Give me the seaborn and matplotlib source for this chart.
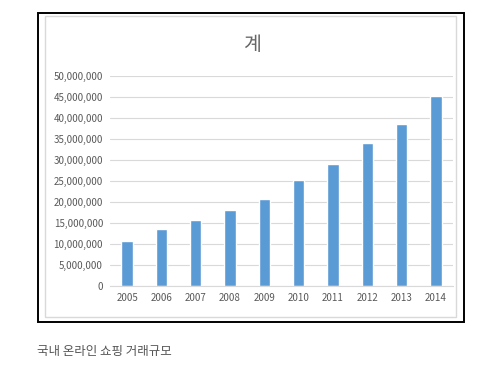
import matplotlib
matplotlib.use("Agg")
import matplotlib.pyplot as plt
import matplotlib.patches as mpatches
import matplotlib.ticker as mticker
import seaborn as sns
import pandas as pd

years = ["2005", "2006", "2007", "2008", "2009", "2010", "2011", "2012", "2013", "2014"]
totals = [10675600, 13460000, 15765500, 18145900, 20643000,
          25202800, 29072800, 34067800, 38497900, 45302000]
title = "계"
caption = "국내 온라인 쇼핑 거래규모"

sns.set_style("white")
plt.rcParams['font.family'] = ['Noto Sans CJK KR', 'DejaVu Sans']

df = pd.DataFrame({"year": years, "total": totals})

W, H = 498, 381
fig = plt.figure(figsize=(W / 100, H / 100), dpi=100)


def fx(px):
    return px / W


def fy(py):
    return 1 - py / H


# outer black frame and inner grey chart border
fig.patches.append(mpatches.Rectangle((fx(38), fy(322)), fx(464 - 38), (322 - 13) / H,
                                      transform=fig.transFigure, fill=False,
                                      edgecolor="black", linewidth=1.4))
fig.patches.append(mpatches.Rectangle((fx(45), fy(317)), fx(456 - 45), (317 - 16) / H,
                                      transform=fig.transFigure, fill=False,
                                      edgecolor="#d9d9d9", linewidth=1.0))

ax = fig.add_axes([fx(110), fy(285.7), fx(453 - 110), (285.7 - 76) / H])
sns.barplot(data=df, x="year", y="total", color="#5b9bd5", saturation=1,
            width=0.33, ax=ax)

ax.set_ylim(0, 50000000)
ax.set_xlim(-0.5, len(years) - 0.5)
ax.yaxis.set_major_locator(mticker.MultipleLocator(5000000))
ax.yaxis.set_major_formatter(mticker.FuncFormatter(lambda v, p: f"{int(v):,}"))
ax.grid(axis="y", color="#d9d9d9", linewidth=0.8)
ax.set_axisbelow(True)
for s in ["top", "right", "left"]:
    ax.spines[s].set_visible(False)
ax.spines["bottom"].set_color("#d9d9d9")
ax.tick_params(axis="both", length=0, labelsize=7, colors="#595959", pad=5)
ax.set_xlabel("")
ax.set_ylabel("")

fig.text(fx(252), fy(44), title, ha="center", va="center", fontsize=14, color="#666666")
fig.text(fx(37), fy(352), caption, ha="left", va="center", fontsize=9, color="#555555")

fig.savefig("out.png", dpi=100)
